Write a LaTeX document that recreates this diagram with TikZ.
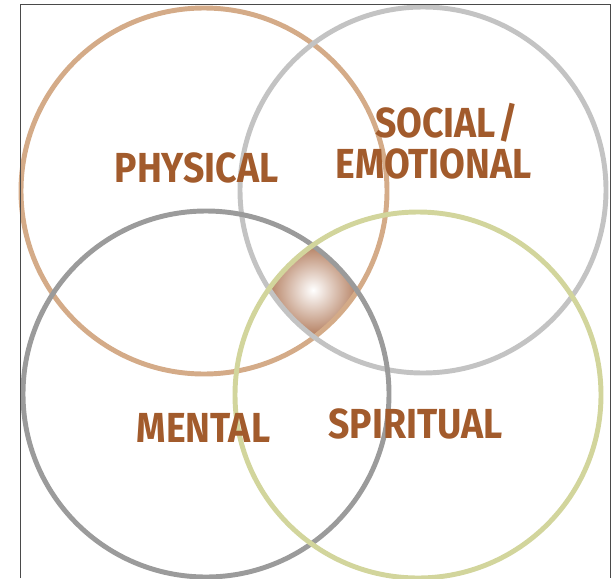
\documentclass[tikz,border=0pt]{standalone}
\usepackage{fontspec}
\usepackage{tikz}
\usetikzlibrary{positioning}
\newfontfamily\ringfont[FakeStretch=0.89]{Fira Sans}
\definecolor{labelbrown}{HTML}{A25B2C}
\definecolor{physring}{HTML}{D4AB88}
\definecolor{socring}{HTML}{C3C3C3}
\definecolor{mentring}{HTML}{9B9B9B}
\definecolor{spirring}{HTML}{D2D59C}
\definecolor{coreout}{HTML}{A2603A}
\definecolor{framegray}{HTML}{4A4A4A}
\tikzset{
  ring/.style={line width=3.7pt, draw=#1},
  area/.style={font=\ringfont\bfseries\fontsize{31.5}{37}\selectfont, text=labelbrown, inner sep=0pt, anchor=base},
  frameline/.style={line width=1.1pt, draw=framegray},
}

\begin{document}
\begin{tikzpicture}[x=0.75pt, y=-0.75pt]
  \useasboundingbox (0,0) rectangle (613,578);
  \coordinate (phys) at (204,191);
  \coordinate (soc) at (423,190);
  \coordinate (ment) at (206,394);
  \coordinate (spir) at (418,395);

  % shaded core where all four rings meet
  \begin{scope}
    \clip (phys) circle[radius=183];
    \clip (soc) circle[radius=183];
    \clip (ment) circle[radius=183];
    \clip (spir) circle[radius=183];
    \shade[inner color=white, outer color=coreout] (313,290) circle[radius=56];
  \end{scope}

  \draw[ring=physring] (phys) circle[radius=183];
  \draw[ring=socring] (soc) circle[radius=183];
  \draw[ring=mentring] (ment) circle[radius=183];
  \draw[ring=spirring] (spir) circle[radius=183];

  \draw[frameline] (20.5,578) |- (610.5,4.5) -- (610.5,578);

  \node[area] (physical) at (196.5,182) {PHYSICAL};
  \node[area] (social) at (446.5,137) {SOCIAL\kern2pt/};
  \node[area] (emotional) at (433.5,178) {EMOTIONAL};
  \node[area] (mental) at (203.5,442) {MENTAL};
  \node[area] (spiritual) at (415.5,438) {SPIRITUAL};
\end{tikzpicture}
\end{document}
